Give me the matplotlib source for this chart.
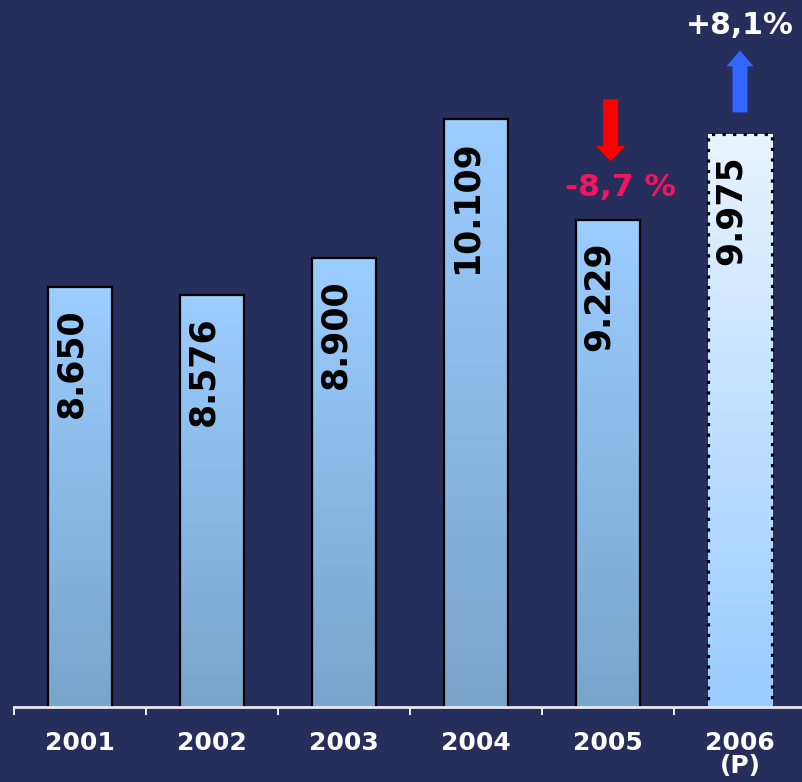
import numpy as np
import matplotlib
matplotlib.use("Agg")
import matplotlib.pyplot as plt
from matplotlib.colors import to_rgb
from matplotlib.transforms import offset_copy

years = ["2001", "2002", "2003", "2004", "2005", "2006\n(P)"]
values = [8650, 8576, 8900, 10109, 9229, 9975]
value_labels = ["8.650", "8.576", "8.900", "10.109", "9.229", "9.975"]
change_down = "-8,7 %"
change_up = "+8,1%"

BG = "#262F5C"
fig = plt.figure(figsize=(8.02, 7.82), dpi=100)
fig.patch.set_facecolor(BG)
ax = fig.add_axes([14 / 802, 75 / 782, 792 / 802, 707 / 782])
ax.set_facecolor("none")

x = np.arange(len(values))
ymin, ymax = 5000, 5000 + 707 / 0.1151
width = 0.485

bars = ax.bar(x, values, width=width, color="none", edgecolor="black",
              linewidth=1.6, zorder=3)
bars[-1].set_linestyle((0, (1, 2.3)))
bars[-1].set_linewidth(2.3)


def gradient(c_top, c_bot):
    t = np.linspace(0, 1, 256)[:, None]
    a, b = np.array(to_rgb(c_bot)), np.array(to_rgb(c_top))
    return (a + (b - a) * t)[:, None, :].reshape(256, 1, 3)


for i, b in enumerate(bars):
    if i == len(bars) - 1:
        img = gradient("#E8F4FF", "#99CCFF")
    else:
        img = gradient("#9BCDFF", "#79A4CC")
    x0 = b.get_x()
    im = ax.imshow(img, extent=(x0, x0 + width, ymin, values[i]),
                   origin="lower", aspect="auto", zorder=2,
                   interpolation="bilinear")
    im.set_clip_path(b)

for i, lab in enumerate(value_labels):
    ax.annotate(lab, xy=(x[i], values[i]), xytext=(-9, -21),
                textcoords="offset pixels", rotation=90, ha="center",
                va="top", fontsize=25, fontweight="bold", color="black",
                zorder=4)

# change annotations
i5, i6 = 4, 5
ax.annotate(change_down, xy=(x[i5], values[i5]), xytext=(12, 33),
            textcoords="offset pixels", ha="center", va="center",
            fontsize=22.5, fontweight="bold", color="#F5145F")
ax.annotate(change_up, xy=(x[i6], values[i6]), xytext=(0, 109),
            textcoords="offset pixels", ha="center", va="center",
            fontsize=21.5, fontweight="bold", color="white",
            annotation_clip=False)

ax.annotate("", xy=(x[i5] + 0.02, values[i5]),
            xycoords=offset_copy(ax.transData, fig=fig, y=59, units="dots"),
            xytext=(x[i5] + 0.02, values[i5]),
            textcoords=offset_copy(ax.transData, fig=fig, y=121, units="dots"),
            arrowprops=dict(arrowstyle="simple,head_length=11,head_width=21,tail_width=10.8",
                            mutation_scale=1, color="#FF0000", shrinkA=0,
                            shrinkB=0, lw=0))
ax.annotate("", xy=(x[i6], values[i6]),
            xycoords=offset_copy(ax.transData, fig=fig, y=84, units="dots"),
            xytext=(x[i6], values[i6]),
            textcoords=offset_copy(ax.transData, fig=fig, y=22, units="dots"),
            arrowprops=dict(arrowstyle="simple,head_length=11.5,head_width=19.5,tail_width=10.8",
                            mutation_scale=1, color="#3366FF", shrinkA=0,
                            shrinkB=0, lw=0), annotation_clip=False)

ax.set_xlim(-0.5, len(values) - 0.5)
ax.set_ylim(ymin, ymax)
for s in ["top", "right", "left"]:
    ax.spines[s].set_visible(False)
ax.spines["bottom"].set_color("#E8E8F0")
ax.spines["bottom"].set_linewidth(2)
ax.spines["bottom"].set_zorder(5)
ax.set_yticks([])
ax.set_xticks(np.arange(len(values) + 1) - 0.5)
ax.set_xticklabels([])
ax.tick_params(axis="x", which="major", length=6, width=1.5, color="#E8E8F0",
               direction="out")
ax.set_xticks(x, years, minor=True)
ax.tick_params(axis="x", which="minor", length=0, pad=17, labelsize=18,
               labelcolor="white")
for t in ax.get_xticklabels(minor=True):
    t.set_fontweight("bold")
    t.set_linespacing(0.95)
    t.set_va("top")

fig.savefig("out.png", dpi=100, facecolor=BG)
